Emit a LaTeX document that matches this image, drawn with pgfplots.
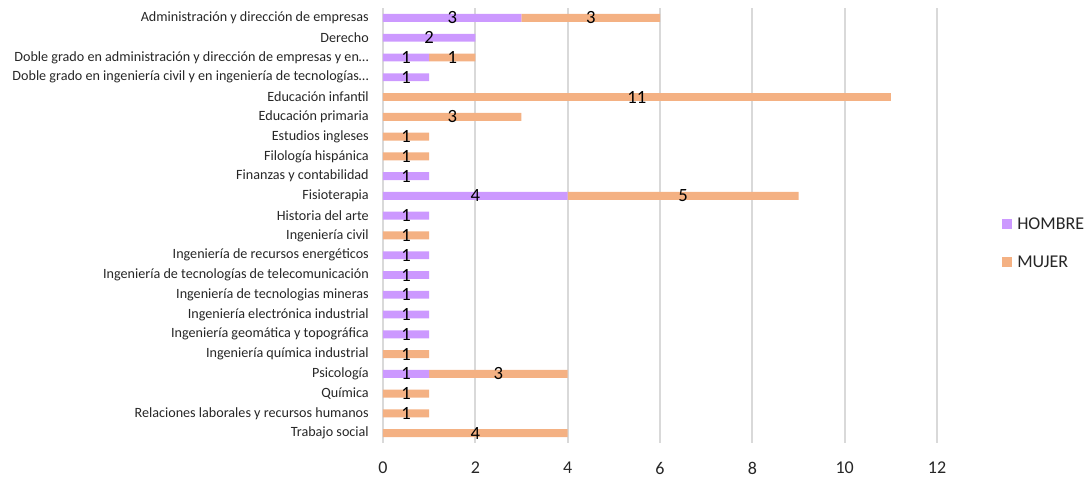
\documentclass[border=0pt]{standalone}
\usepackage{fontspec}
\setmainfont{Carlito}
\usepackage{pgfplots}
\pgfplotsset{compat=1.18}
\usepackage{pgfplotstable}
\definecolor{hombre}{HTML}{CC99FF}
\definecolor{mujer}{HTML}{F4B183}
\definecolor{gridc}{HTML}{D9D9D9}
\definecolor{txt}{HTML}{262626}

\pgfplotstableread{
y H M
0 3 3
1 2 0
2 1 1
3 1 0
4 0 11
5 0 3
6 0 1
7 0 1
8 1 0
9 4 5
10 1 0
11 0 1
12 1 0
13 1 0
14 1 0
15 1 0
16 1 0
17 0 1
18 1 3
19 0 1
20 0 1
21 0 4
}\datatable

\pgfplotstableread{
x y l
1.5 0 3
4.5 0 3
1 1 2
0.5 2 1
1.5 2 1
0.5 3 1
5.5 4 11
1.5 5 3
0.5 6 1
0.5 7 1
0.5 8 1
2 9 4
6.5 9 5
0.5 10 1
0.5 11 1
0.5 12 1
0.5 13 1
0.5 14 1
0.5 15 1
0.5 16 1
0.5 17 1
0.5 18 1
2.5 18 3
0.5 19 1
0.5 20 1
2 21 4
}\labeltable

\pgfplotsset{
  common/.style={
    at={(0,0)}, anchor=south west,
    scale only axis, width=415.5pt, height=326.25pt,
    xmin=0, xmax=12, ymin=-0.5, ymax=21.5, y dir=reverse,
  }
}

\begin{document}
\begin{tikzpicture}
\useasboundingbox (-287.25pt,-27.75pt) rectangle (531pt,332.3pt);
\begin{axis}[common,
  xbar stacked, bar width=0.4,
  axis line style={draw=none},
  major tick length=0pt,
  xmajorgrids, grid style={gridc, line width=1.3pt},
  xtick={0,2,...,12},
  ytick={0,...,21},
  yticklabels={
    {Administración y dirección de empresas},
    {Derecho},
    {Doble grado en administración y dirección de empresas y en…},
    {Doble grado en ingeniería civil y en ingeniería de tecnologías…},
    {Educación infantil},
    {Educación primaria},
    {Estudios ingleses},
    {Filología hispánica},
    {Finanzas y contabilidad},
    {Fisioterapia},
    {Historia del arte},
    {Ingeniería civil},
    {Ingeniería de recursos energéticos},
    {Ingeniería de tecnologías de telecomunicación},
    {Ingeniería de tecnologias mineras},
    {Ingeniería electrónica industrial},
    {Ingeniería geomática y topográfica},
    {Ingeniería química industrial},
    {Psicología},
    {Química},
    {Relaciones laborales y recursos humanos},
    {Trabajo social}},
  /pgf/number format/assume math mode=true,
  yticklabel style={font=\fontsize{10.6pt}{12pt}\selectfont, text=txt, inner sep=0pt, anchor=east, xshift=-10.5pt},
  xticklabel style={font=\fontsize{13.5pt}{15pt}\selectfont, text=txt, inner sep=0pt, anchor=north, yshift=-14pt},
  legend style={at={(1.1173,0.461)}, anchor=west, draw=none, fill=none, inner sep=0pt,
    font=\fontsize{13.5pt}{15pt}\selectfont, text=txt,
    row sep=19pt,
    nodes={inner sep=0pt, text height=9.5pt, text depth=0pt},
    /tikz/every odd column/.append style={column sep=3.75pt}},
  legend cell align=left,
  legend image code/.code={\fill (0pt,-3.75pt) rectangle (7.5pt,3.75pt);},
]
\addplot[fill=hombre, draw=none] table[x=H, y=y] {\datatable};
\addlegendentry{HOMBRE}
\addplot[fill=mujer, draw=none] table[x=M, y=y] {\datatable};
\addlegendentry{MUJER}
\end{axis}
\begin{axis}[common, hide axis]
\addplot[draw=none, mark=none, nodes near coords, point meta=explicit symbolic,
  nodes near coords style={anchor=center, inner sep=0pt, font=\fontsize{14pt}{16pt}\selectfont, text=black}]
  table[x=x, y=y, meta=l] {\labeltable};
\end{axis}
\end{tikzpicture}
\end{document}
